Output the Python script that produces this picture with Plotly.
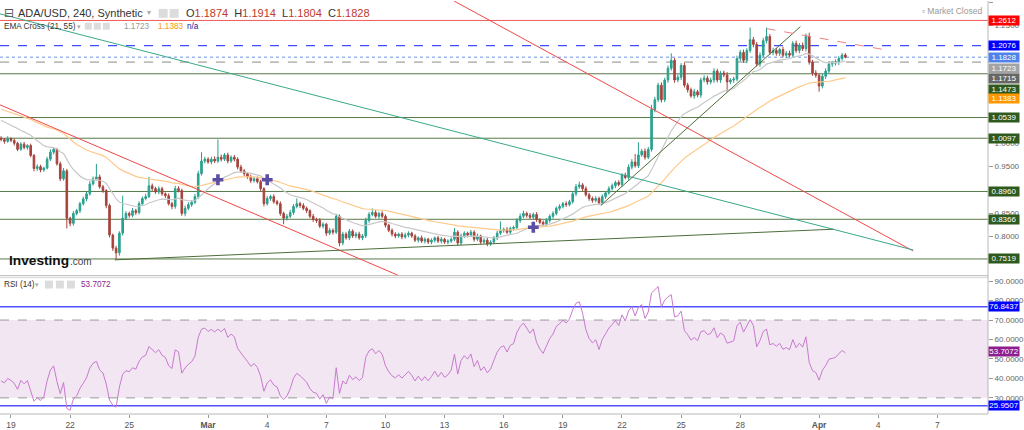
import pandas as pd
import plotly.graph_objects as go

# ---------------- data ----------------
bar_start = "2021-02-18 12:00"
first_open = 1.010
close = [
    1.007, 1.003, 1.009, 1.005, 0.999, 0.986,
    0.997, 0.990, 0.994, 0.973, 0.945, 0.949,
    0.942, 0.946, 0.965, 0.980, 0.986, 0.955,
    0.923, 0.940, 0.839, 0.828, 0.849, 0.855,
    0.870, 0.880, 0.891, 0.912, 0.923, 0.927,
    0.906, 0.898, 0.866, 0.803, 0.775, 0.765,
    0.807, 0.839, 0.849, 0.845, 0.855, 0.851,
    0.870, 0.881, 0.885, 0.908, 0.902, 0.895,
    0.902, 0.891, 0.887, 0.870, 0.864, 0.902,
    0.898, 0.849, 0.860, 0.868, 0.873, 0.885,
    0.934, 0.961, 0.965, 0.959, 0.965, 0.961,
    0.969, 0.965, 0.974, 0.961, 0.969, 0.965,
    0.948, 0.940, 0.934, 0.927, 0.919, 0.923,
    0.917, 0.902, 0.870, 0.881, 0.885, 0.874,
    0.870, 0.849, 0.839, 0.843, 0.851, 0.864,
    0.870, 0.866, 0.860, 0.855, 0.843, 0.836,
    0.834, 0.822, 0.826, 0.807, 0.813, 0.809,
    0.843, 0.786, 0.805, 0.797, 0.811, 0.801,
    0.805, 0.797, 0.801, 0.834, 0.847, 0.851,
    0.843, 0.849, 0.843, 0.824, 0.813, 0.805,
    0.801, 0.805, 0.799, 0.803, 0.807, 0.801,
    0.792, 0.797, 0.790, 0.794, 0.788, 0.792,
    0.797, 0.790, 0.794, 0.788, 0.790, 0.794,
    0.809, 0.786, 0.801, 0.807, 0.803, 0.809,
    0.794, 0.801, 0.788, 0.792, 0.784, 0.788,
    0.797, 0.807, 0.813, 0.815, 0.809, 0.817,
    0.819, 0.834, 0.843, 0.849, 0.845, 0.841,
    0.847, 0.836, 0.830, 0.826, 0.834, 0.843,
    0.849, 0.860, 0.864, 0.870, 0.868, 0.874,
    0.891, 0.906, 0.910, 0.902, 0.889, 0.881,
    0.877, 0.881, 0.872, 0.885, 0.893, 0.902,
    0.908, 0.915, 0.911, 0.931, 0.926, 0.948,
    0.959, 0.951, 0.974, 0.982, 0.969, 0.986,
    1.071, 1.092, 1.123, 1.092, 1.134, 1.159,
    1.176, 1.134, 1.140, 1.165, 1.123, 1.113,
    1.100, 1.109, 1.102, 1.134, 1.138, 1.130,
    1.134, 1.153, 1.134, 1.149, 1.145, 1.130,
    1.134, 1.136, 1.180, 1.193, 1.176, 1.197,
    1.220, 1.210, 1.168, 1.187, 1.218, 1.227,
    1.193, 1.197, 1.191, 1.199, 1.187, 1.191,
    1.187, 1.212, 1.197, 1.208, 1.201, 1.227,
    1.172, 1.149, 1.144, 1.121, 1.142, 1.153,
    1.168, 1.170, 1.172, 1.180, 1.1874, 1.1828,
]
# wick lengths above / below the candle body, in thousandths
upper_wick = [
    4, 3, 5, 3, 4, 3,  4, 5, 3, 4, 3, 5,  4, 3, 5, 6, 4, 3,  5, 6, 4, 3, 5, 4,
    4, 5, 4, 6, 5, 28,  5, 4, 3, 4, 3, 5,  4, 48, 5, 4, 6, 4,  5, 4, 6, 19, 5, 4,
    5, 4, 3, 5, 4, 6,  5, 4, 6, 5, 4, 6,  6, 19, 5, 4, 5, 6,  38, 6, 4, 5, 4, 5,
    4, 5, 4, 3, 5, 4,  5, 4, 3, 5, 4, 5,  4, 5, 4, 5, 6, 5,  11, 4, 5, 4, 3, 5,
    4, 5, 4, 3, 5, 4,  4, 4, 5, 4, 5, 4,  4, 5, 4, 6, 5, 9,  5, 4, 5, 4, 3, 4,
    4, 3, 4, 5, 4, 3,  4, 3, 5, 4, 3, 4,  3, 4, 5, 3, 4, 4,  9, 4, 5, 4, 3, 5,
    4, 5, 3, 4, 5, 4,  4, 5, 19, 4, 5, 4,  4, 5, 6, 6, 4, 5,  4, 5, 3, 4, 5, 4,
    5, 4, 5, 4, 5, 4,  5, 6, 7, 4, 5, 4,  4, 5, 4, 5, 4, 5,  5, 4, 5, 4, 5, 6,
    6, 17, 27, 5, 6, 5,  10, 6, 5, 6, 5, 6,  15, 5, 6, 5, 6, 5,  5, 6, 4, 5, 6, 5,
    5, 6, 5, 4, 5, 6,  4, 5, 6, 5, 6, 5,  26, 6, 5, 6, 6, 19,  5, 6, 5, 4, 6, 5,
    6, 5, 6, 5, 6, 6,  8, 5, 6, 4, 5, 6,  5, 4, 6, 5, 4, 4,
]
lower_wick = [
    4, 5, 3, 4, 5, 4,  3, 4, 5, 4, 6, 5,  5, 4, 3, 4, 5, 4,  5, 4, 22, 6, 5, 4,
    5, 4, 5, 4, 3, 4,  4, 5, 6, 5, 6, 14,  6, 5, 4, 5, 4, 5,  4, 5, 4, 3, 5, 4,
    5, 4, 5, 4, 6, 5,  4, 5, 6, 4, 5, 4,  5, 4, 5, 4, 5, 4,  4, 5, 4, 5, 4, 5,
    5, 4, 5, 4, 5, 4,  4, 5, 6, 4, 5, 4,  4, 5, 13, 5, 4, 5,  4, 5, 4, 5, 4, 5,
    5, 4, 5, 6, 4, 5,  4, 7, 5, 4, 5, 4,  5, 4, 5, 4, 5, 4,  4, 5, 4, 5, 4, 5,
    5, 4, 5, 4, 5, 4,  4, 5, 4, 5, 4, 5,  5, 4, 5, 4, 5, 4,  4, 6, 5, 4, 5, 4,
    5, 4, 5, 4, 5, 4,  4, 5, 4, 5, 4, 5,  5, 4, 5, 4, 5, 4,  4, 5, 4, 5, 4, 5,
    5, 4, 5, 4, 5, 4,  4, 5, 4, 5, 4, 5,  5, 4, 5, 4, 5, 4,  4, 5, 4, 5, 4, 5,
    5, 4, 5, 4, 5, 4,  5, 6, 5, 6, 5, 6,  5, 6, 5, 6, 5, 6,  4, 6, 5, 6, 5, 6,
    5, 6, 5, 6, 5, 21,  5, 6, 5, 6, 5, 6,  5, 6, 5, 6, 5, 6,  5, 6, 5, 6, 5, 6,
    5, 6, 5, 6, 5, 6,  5, 6, 5, 12, 5, 6,  5, 6, 5, 6, 5, 2.4,
]

ema_fast_len, ema_slow_len = 21, 55
ema_fast_seed, ema_slow_seed = 1.052, 1.074
rsi_len = 14
rsi_gain_seed, rsi_loss_seed = 0.0055, 0.0085

# horizontal price levels
levels = [1.2612, 1.2076, 1.1828, 1.1723, 1.1473, 1.0539, 1.0097, 0.8960, 0.8366, 0.7519]
# right-axis value tags
tag_values = [1.2612, 1.2076, 1.1828, 1.1723, 1.1715, 1.1473, 1.1383, 1.0539, 1.0097, 0.8960, 0.8366, 0.7519]

# drawn trend lines: (start time, start price, end time, end price)
trend_red_1 = ["2021-02-18 10:38", 1.081, "2021-03-10 16:42", 0.716]
trend_red_2 = ["2021-03-13 11:31", 1.3027, "2021-04-05 18:29", 0.769]
trend_teal = ["2021-02-18 10:38", 1.2753, "2021-04-05 18:29", 0.7711]
trend_support = ["2021-02-24 06:23", 0.750, "2021-04-01 17:17", 0.8154]
trend_steep = ["2021-03-20 22:05", 0.866, "2021-03-31 01:13", 1.2479]
trend_pink = ["2021-03-29 07:55", 1.2437, "2021-04-04 12:12", 1.1973]

cross_times = ["2021-03-01 12:00", "2021-03-04 00:00", "2021-03-17 12:00"]
cross_prices = [0.921, 0.921, 0.8196]

rsi_levels = [76.8437, 25.9507]
rsi_band = [30, 70]
rsi_last = 53.7072

x_range = ["2021-02-18 10:38", "2021-04-09 13:40"]
price_range = [0.7162, 1.3027]
rsi_range = [21.7, 91.8]
tick_dates = ["2021-02-19", "2021-02-22", "2021-02-25", "2021-03-01", "2021-03-04", "2021-03-07",
              "2021-03-10", "2021-03-13", "2021-03-16", "2021-03-19", "2021-03-22", "2021-03-25",
              "2021-03-28", "2021-04-01", "2021-04-04", "2021-04-07"]
tick_text = ["19", "22", "25", "<b>Mar</b>", "4", "7", "10", "13", "16", "19", "22", "25", "28",
             "<b>Apr</b>", "4", "7"]
# price ticks whose labels are not fully covered by the value tags
price_ticks = [0.80, 0.85, 0.95, 1.00, 1.25, 1.30]
rsi_ticks = [30, 40, 50, 60, 70, 80, 90]

# ---------------- derived series ----------------
n = len(close)
assert len(upper_wick) == n and len(lower_wick) == n
times = pd.date_range(bar_start, periods=n, freq="4h")
opens = [first_open] + close[:-1]
highs = [max(o, c) + u / 1000 for o, c, u in zip(opens, close, upper_wick)]
lows = [min(o, c) - w / 1000 for o, c, w in zip(opens, close, lower_wick)]


def ema(values, length, seed):
    a = 2 / (length + 1)
    out, e = [], seed
    for v in values:
        e = e + a * (v - e)
        out.append(e)
    return out


def rsi(values, prev, length, g, l):
    out = []
    for v in values:
        d = v - prev
        prev = v
        g = (g * (length - 1) + max(d, 0)) / length
        l = (l * (length - 1) + max(-d, 0)) / length
        out.append(100 - 100 / (1 + g / l))
    return out


ema_fast = ema(close, ema_fast_len, ema_fast_seed)
ema_slow = ema(close, ema_slow_len, ema_slow_seed)
rsi_vals = rsi(close, first_open, rsi_len, rsi_gain_seed, rsi_loss_seed)

# ---------------- styling ----------------
FONT = "Liberation Sans, Arial, sans-serif"
W, H = 1024, 430
PW, PH = 990, 418          # plot area in pixels (margins l=0,t=0)
GREEN = "#587a47"


def px(x):
    return x / PW


def py(y):
    return 1 - y / PH


fig = go.Figure()

fig.add_trace(go.Candlestick(
    x=times, open=opens, high=highs, low=lows, close=close,
    increasing=dict(line=dict(color="#2a9f8c", width=1), fillcolor="#26a69a"),
    decreasing=dict(line=dict(color="#a5443d", width=1), fillcolor="#a83f38"),
    whiskerwidth=0, xaxis="x", yaxis="y", showlegend=False, hoverinfo="skip"))

fig.add_trace(go.Scatter(x=times, y=ema_fast, mode="lines", line=dict(color="#c8c8c8", width=1.2),
                         xaxis="x", yaxis="y", showlegend=False, hoverinfo="skip"))
fig.add_trace(go.Scatter(x=times, y=ema_slow, mode="lines", line=dict(color="#ffc98a", width=1.2),
                         xaxis="x", yaxis="y", showlegend=False, hoverinfo="skip"))

trend_styles = [
    (trend_red_1, "#f04848", "solid"),
    (trend_red_2, "#f04848", "solid"),
    (trend_teal, "#3aa88a", "solid"),
    (trend_support, "#4d6e3a", "solid"),
    (trend_steep, "#4d6e3a", "solid"),
    (trend_pink, "#f08080", "dash"),
]
for tl, col, dash in trend_styles:
    fig.add_trace(go.Scatter(x=[tl[0], tl[2]], y=[tl[1], tl[3]], mode="lines",
                             line=dict(color=col, width=1, dash=dash),
                             xaxis="x", yaxis="y", showlegend=False, hoverinfo="skip"))

fig.add_trace(go.Scatter(x=cross_times, y=cross_prices, mode="markers",
                         marker=dict(symbol="cross", size=9, color="#5b4ea3", line=dict(width=0)),
                         xaxis="x", yaxis="y", showlegend=False, hoverinfo="skip"))

# RSI
fig.add_trace(go.Scatter(x=times, y=rsi_vals, mode="lines", line=dict(color="#c77acd", width=1),
                         xaxis="x", yaxis="y2", showlegend=False, hoverinfo="skip"))

shapes = []
level_styles = {
    1.2612: ("#f05a5a", "solid", 1),
    1.2076: ("#3f4dff", "dash", 1.3),
    1.1828: ("#9db7f0", "dot", 1.5),
    1.1723: ("#8a8a8a", "dash", 1),
}
for lv in levels:
    col, dash, w = level_styles.get(lv, (GREEN, "solid", 1))
    shapes.append(dict(type="line", xref="paper", yref="y", x0=0, x1=1, y0=lv, y1=lv,
                       line=dict(color=col, width=w, dash=dash), layer="below"))

# RSI band + lines
shapes.append(dict(type="rect", xref="paper", yref="y2", x0=0, x1=1, y0=rsi_band[0], y1=rsi_band[1],
                   fillcolor="#f1e6f2", line=dict(width=0), layer="below"))
for b in rsi_band:
    shapes.append(dict(type="line", xref="paper", yref="y2", x0=0, x1=1, y0=b, y1=b,
                       line=dict(color="#9a9a9a", width=1, dash="dash"), layer="below"))
for lv in rsi_levels:
    shapes.append(dict(type="line", xref="paper", yref="y2", x0=0, x1=1, y0=lv, y1=lv,
                       line=dict(color="#5050ff", width=1.5), layer="below"))

# pane borders
shapes.append(dict(type="line", xref="paper", yref="paper", x0=0, x1=1, y0=py(278), y1=py(278),
                   line=dict(color="#b8b8b8", width=1)))
shapes.append(dict(type="line", xref="paper", yref="paper", x0=0, x1=1, y0=py(280), y1=py(280),
                   line=dict(color="#d8d8d8", width=1)))
shapes.append(dict(type="line", xref="paper", yref="paper", x0=0, x1=1, y0=0, y1=0,
                   line=dict(color="#b8b8b8", width=1)))
shapes.append(dict(type="line", xref="paper", yref="paper", x0=1, x1=1, y0=0, y1=1,
                   line=dict(color="#b8b8b8", width=1)))

# small header icon boxes
for (x0, x1, y0, y1) in [(159, 168, 8, 17), (170, 179, 8, 17),
                         (85, 92, 22, 29), (94, 101, 22, 29), (103, 110, 22, 29),
                         (45, 53, 283, 291), (56, 64, 283, 291), (67, 75, 283, 291)]:
    shapes.append(dict(type="rect", xref="paper", yref="paper", x0=px(x0), x1=px(x1), y0=py(y1), y1=py(y0),
                       fillcolor="#dcdcdc", line=dict(width=0)))

ann = []


def text(x, y, s, size, color="#333", anchor="left", family=FONT):
    ann.append(dict(xref="paper", yref="paper", x=px(x), y=py(y), text=s, showarrow=False,
                    xanchor=anchor, yanchor="middle", font=dict(family=family, size=size, color=color)))


RED = "#c0392b"
text(2, 12, "⊟", 12, "#555", family="DejaVu Sans")
text(16, 12, "ADA/USD, 240, Synthetic", 11, "#333")
text(145, 12, "▾", 8, "#aaa", family="DejaVu Sans")
text(184, 12, "O<span style='color:%s'>1.1874</span>  H<span style='color:%s'>1.1914</span>  "
     "L<span style='color:%s'>1.1804</span>  C<span style='color:%s'>1.1828</span>" % (RED, RED, RED, RED),
     11, "#333")
text(2, 26, "EMA Cross (21, 55)", 8.2, "#333")
text(75, 26, "▾", 7, "#aaa", family="DejaVu Sans")
text(122, 26, "1.1723", 8.2, "#999")
text(156, 26, "1.1383", 8.2, "#ff9800")
text(185, 26, "n/a", 8.2, "#1a1a8c")
text(2, 287, "RSI (14)", 8.2, "#333")
text(33, 287, "▾", 7, "#aaa", family="DejaVu Sans")
text(79, 287, "53.7072", 8.2, "#8e248e")
text(986, 10, "▫ Market Closed", 8.5, "#999", anchor="right", family=FONT)
text(7, 263, "<b>Investing</b>", 13.7, "#111")
text(68, 264, ".com", 10, "#444")

tag_styles = {
    1.2612: ("#ff0000", 0), 1.2076: ("#0000ff", 0), 1.1828: ("#4f82ea", 0),
    1.1723: ("#a3a3a3", -6), 1.1715: ("#666666", -16), 1.1473: ("#2f5a1d", -16),
    1.1383: ("#ff9800", -21),
}
for v in tag_values:
    bg, shift = tag_styles.get(v, ("#2f5a1d", 0))
    ann.append(dict(xref="paper", yref="y", x=1, y=v, yshift=shift, xanchor="left", yanchor="middle",
                    text="%.4f" % v, showarrow=False, bgcolor=bg, width=30, height=9, borderpad=0,
                    font=dict(family=FONT, size=8, color="white")))
for v, bg in [(rsi_levels[0], "#0000ff"), (rsi_last, "#8e1e8e"), (rsi_levels[1], "#0000ff")]:
    ann.append(dict(xref="paper", yref="y2", x=1, y=v, xanchor="left", yanchor="middle",
                    text="%.4f" % v, showarrow=False, bgcolor=bg, width=30, height=9, borderpad=0,
                    font=dict(family=FONT, size=8, color="white")))

fig.update_layout(
    width=W, height=H, margin=dict(l=0, r=W - PW, t=0, b=H - PH),
    paper_bgcolor="white", plot_bgcolor="white", showlegend=False,
    font=dict(family=FONT, size=8, color="#555"),
    xaxis=dict(domain=[0, 1], anchor="y2", range=x_range, type="date", rangeslider=dict(visible=False),
               showgrid=False, zeroline=False, tickvals=tick_dates, ticktext=tick_text,
               ticks="outside", ticklen=3, tickcolor="#999", tickfont=dict(size=8.5, color="#555"),
               showline=False),
    yaxis=dict(domain=[py(278), 1], anchor="x", side="right", range=price_range, showgrid=False,
               zeroline=False, tickvals=price_ticks, tickformat=".4f", ticks="outside", ticklen=4,
               tickcolor="#999", tickfont=dict(size=8, color="#666")),
    yaxis2=dict(domain=[0, py(280)], anchor="x", side="right", range=rsi_range, showgrid=False,
                zeroline=False, tickvals=rsi_ticks, tickformat=".4f", ticks="outside", ticklen=4,
                tickcolor="#999", tickfont=dict(size=8, color="#666")),
    shapes=shapes, annotations=ann,
)

fig.write_html("out.html")
